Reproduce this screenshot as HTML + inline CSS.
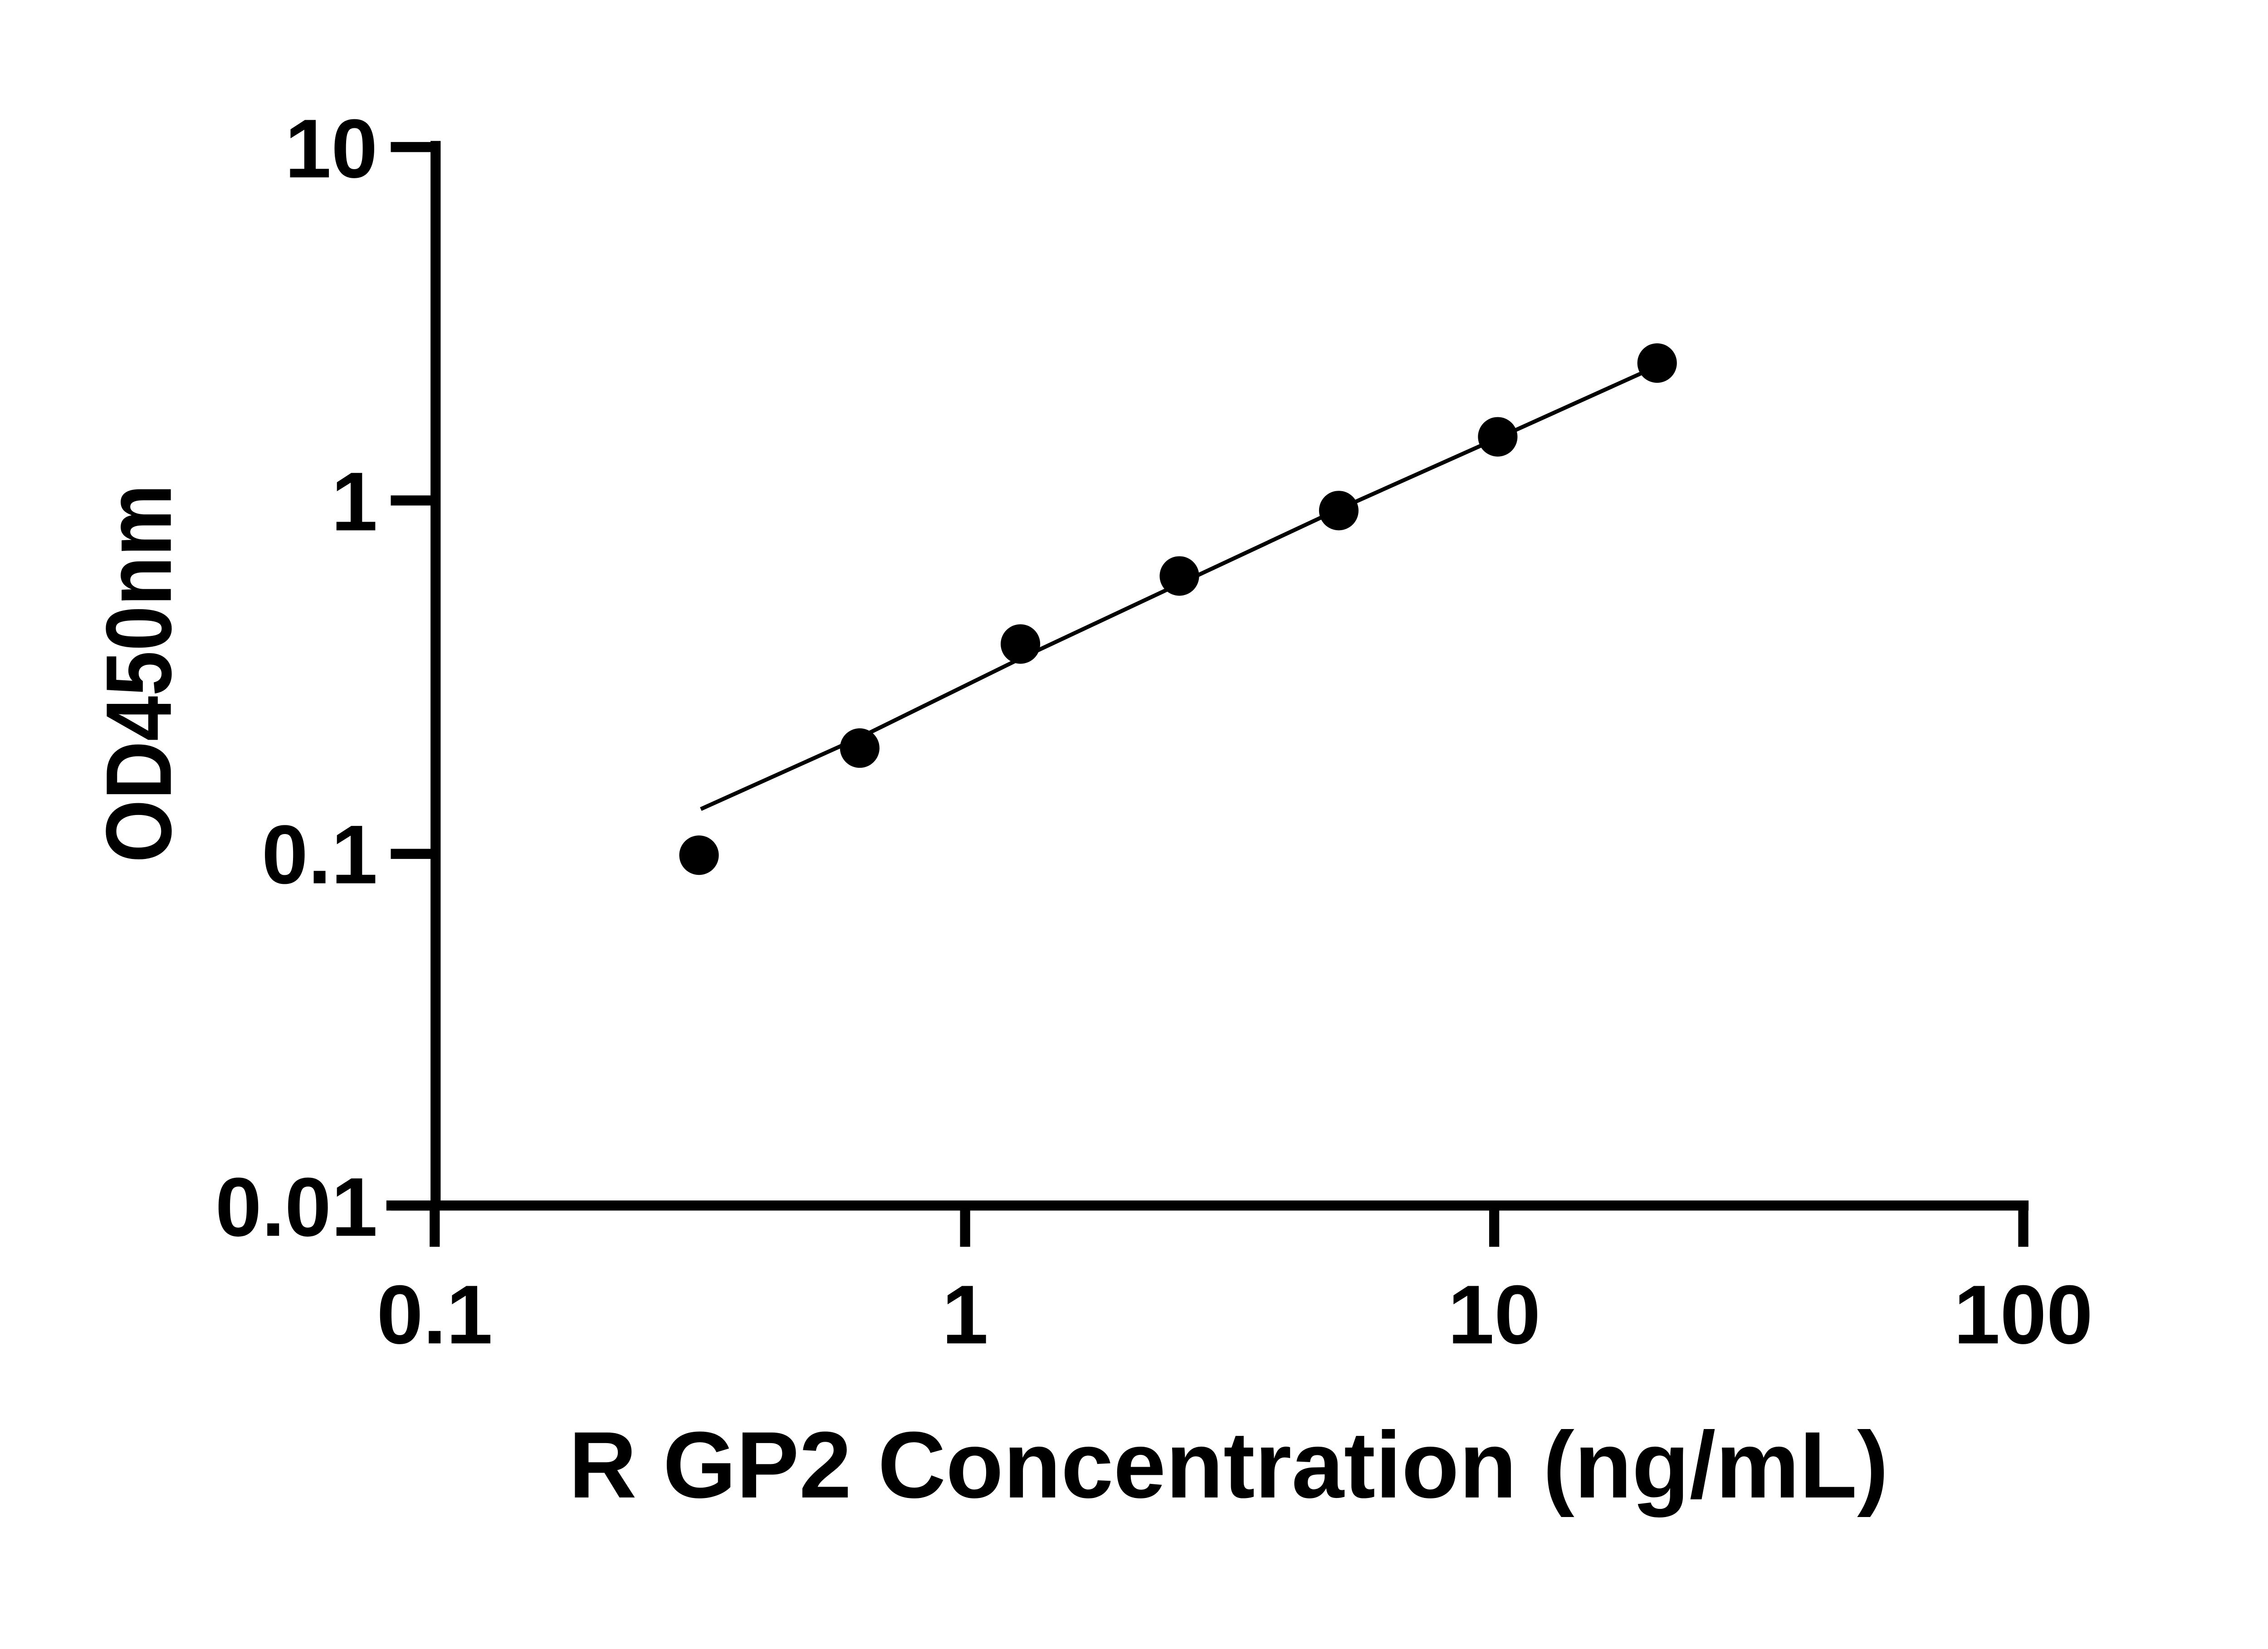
<!DOCTYPE html>
<html><head><meta charset="utf-8"><style>html,body{margin:0;padding:0;background:#fff}svg{display:block}</style></head>
<body>
<svg width="5142" height="3636" viewBox="0 0 5142 3636" xmlns="http://www.w3.org/2000/svg">
<rect width="5142" height="3636" fill="#fff"/>
<g transform="scale(0.968)">
<g stroke="#000" fill="none" stroke-width="23">
<line x1="992" y1="321" x2="992" y2="2757"/>
<line x1="880" y1="2746" x2="4620" y2="2746"/>
<line x1="890" y1="335" x2="1003" y2="335"/>
<line x1="890" y1="1140" x2="992" y2="1140"/>
<line x1="890" y1="1945" x2="992" y2="1945"/>
<line x1="890" y1="2746" x2="992" y2="2746"/>
<line x1="990" y1="2746" x2="990" y2="2840"/>
<line x1="2198" y1="2746" x2="2198" y2="2840"/>
<line x1="3403" y1="2746" x2="3403" y2="2840"/>
<line x1="4608" y1="2746" x2="4608" y2="2840"/>
</g>
<polyline points="1596,1843 1958,1680 2324,1500 2686,1330 3049,1160 3411,998 3774,834" fill="none" stroke="#000" stroke-width="9"/>
<g fill="#000">
<circle cx="1592" cy="1948" r="45"/>
<circle cx="1958" cy="1704" r="45"/>
<circle cx="2324" cy="1467" r="45"/>
<circle cx="2686" cy="1312" r="45"/>
<circle cx="3049" cy="1163" r="45"/>
<circle cx="3411" cy="995" r="45"/>
<circle cx="3774" cy="827" r="45"/>
</g>
<g font-family="Liberation Sans, sans-serif" font-weight="bold" font-size="190" fill="#000">
<g text-anchor="end">
<text x="860" y="404">10</text>
<text x="860" y="1208">1</text>
<text x="860" y="2012">0.1</text>
<text x="860" y="2815">0.01</text>
</g>
<g text-anchor="middle">
<text x="990" y="3060">0.1</text>
<text x="2198" y="3060">1</text>
<text x="3403" y="3060">10</text>
<text x="4608" y="3060">100</text>
</g>
<text x="1295" y="3411" font-size="215" textLength="3006" lengthAdjust="spacingAndGlyphs">R GP2 Concentration (ng/mL)</text>
<text transform="translate(389,1965) rotate(-90)" x="0" y="0" font-size="212" textLength="862" lengthAdjust="spacingAndGlyphs">OD450nm</text>
</g>
</g>
</svg>
</body></html>
